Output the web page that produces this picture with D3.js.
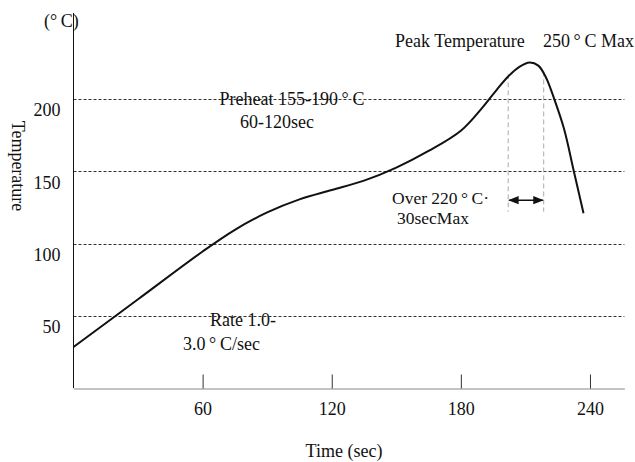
<!DOCTYPE html>
<html>
<head>
<meta charset="utf-8">
<script src="https://cdn.jsdelivr.net/npm/d3@7"></script>
<style>
  body { margin: 0; background: #fff; }
  text { font-family: "Liberation Serif", "Times New Roman", serif; fill: #111; }
</style>
</head>
<body>
<div id="chart"></div>
<script>
// reflow profile
const times = [0, 30, 60, 75, 90, 105, 120, 135, 150, 165, 180, 190, 197, 202, 207, 212, 216, 219.5, 223.5, 228, 232.5, 237];
const temps = [28.5, 61.5, 94.5, 109.5, 121.5, 130.5, 137, 143.5, 152.5, 164, 178, 194, 207, 215.5, 222, 225.2, 223, 215, 199.5, 179, 150, 121];
const xTicks = [60, 120, 180, 240];
const yTicks = [50, 100, 150, 200];
const windowTimes = [202, 218.5]; // over 220°C span
const windowTop = [217, 219];
const windowBottom = 122;

const width = 635;
const height = 462;
const fontSize = '18px';

const svg = d3.select('#chart')
    .append('svg')
    .attr('width', width)
    .attr('height', height);

const x = d3.scaleLinear().domain([0, 256]).range([73.5, 624.4]);
const y = d3.scaleLinear().domain([0, 258]).range([388.2, 15]);

// dashed gridlines
svg.append('g')
    .selectAll('line')
    .data(yTicks)
    .join('line')
    .attr('x1', x(0))
    .attr('x2', x(256))
    .attr('y1', d => Math.round(y(d)) + 0.5)
    .attr('y2', d => Math.round(y(d)) + 0.5)
    .attr('stroke', '#333')
    .attr('stroke-width', 1)
    .attr('stroke-dasharray', '3,2');

// x axis, ticks pointing up
const xAxis = svg.append('g')
    .attr('transform', `translate(0, ${Math.round(y(0)) + 0.5})`)
    .call(d3.axisBottom(x).tickValues(xTicks).tickSizeInner(-14).tickSizeOuter(0).tickPadding(14));
xAxis.select('.domain').attr('stroke', '#888');
xAxis.selectAll('.tick line').attr('stroke', '#333');
xAxis.selectAll('text').style('font-size', fontSize).style('font-family', '"Liberation Serif", serif').attr('fill', '#111');

// y axis, labels sit a bit below their gridline
const yAxis = svg.append('g')
    .attr('transform', `translate(${x(0)}, 0)`)
    .call(d3.axisLeft(y).tickValues(yTicks).tickSize(0).tickPadding(13));
yAxis.select('.domain').attr('stroke', '#111').attr('d', `M0,${y(0)}V13`);
yAxis.selectAll('text').attr('dy', '0.95em').style('font-size', fontSize).style('font-family', '"Liberation Serif", serif').attr('fill', '#111');

// over 220 window
svg.append('g')
    .selectAll('line')
    .data(windowTimes)
    .join('line')
    .attr('x1', d => x(d))
    .attr('x2', d => x(d))
    .attr('y1', (d, i) => y(windowTop[i]))
    .attr('y2', y(windowBottom))
    .attr('stroke', '#aaa')
    .attr('stroke-dasharray', '5,3');

svg.append('defs').append('marker')
    .attr('id', 'head')
    .attr('viewBox', '0 0 10 10')
    .attr('refX', 9).attr('refY', 5)
    .attr('markerWidth', 7).attr('markerHeight', 7)
    .attr('orient', 'auto-start-reverse')
    .append('path')
    .attr('d', 'M0,1L10,5L0,9Z')
    .attr('fill', '#111');

svg.append('line')
    .attr('x1', x(windowTimes[0]) + 1)
    .attr('x2', x(windowTimes[1]) - 1)
    .attr('y1', y(130))
    .attr('y2', y(130))
    .attr('stroke', '#111')
    .attr('stroke-width', 1.5)
    .attr('marker-start', 'url(#head)')
    .attr('marker-end', 'url(#head)');

// profile curve
const line = d3.line()
    .x((d, i) => x(times[i]))
    .y(d => y(d))
    .curve(d3.curveCatmullRom.alpha(0.5));

svg.append('path')
    .datum(temps)
    .attr('d', line)
    .attr('fill', 'none')
    .attr('stroke', '#111')
    .attr('stroke-width', 2);

// labels
function label(txt, px, py, anchor = 'start', size = fontSize) {
    svg.append('text')
        .attr('x', px)
        .attr('y', py)
        .attr('text-anchor', anchor)
        .style('font-size', size)
        .text(txt);
}

label('(°\u2009C)', 44, 27);
label('Peak Temperature', 395, 47);
label('250\u2009°\u2009C Max', 543, 47);
label('Preheat 155-190\u2009°\u2009C', 292, 105, 'middle');
label('60-120sec', 277, 128, 'middle');
label('Over 220\u2009°\u2009C·', 392, 204, 'start', '17.5px');
label('30secMax', 397, 224, 'start', '17.5px');
label('Rate 1.0-', 210, 326);
label('3.0\u2009°\u2009C/sec', 183, 350);
label('Time (sec)', 344, 457, 'middle');

svg.append('text')
    .attr('transform', 'translate(12, 166) rotate(90)')
    .attr('text-anchor', 'middle')
    .style('font-size', fontSize)
    .text('Temperature');
</script>
</body>
</html>
